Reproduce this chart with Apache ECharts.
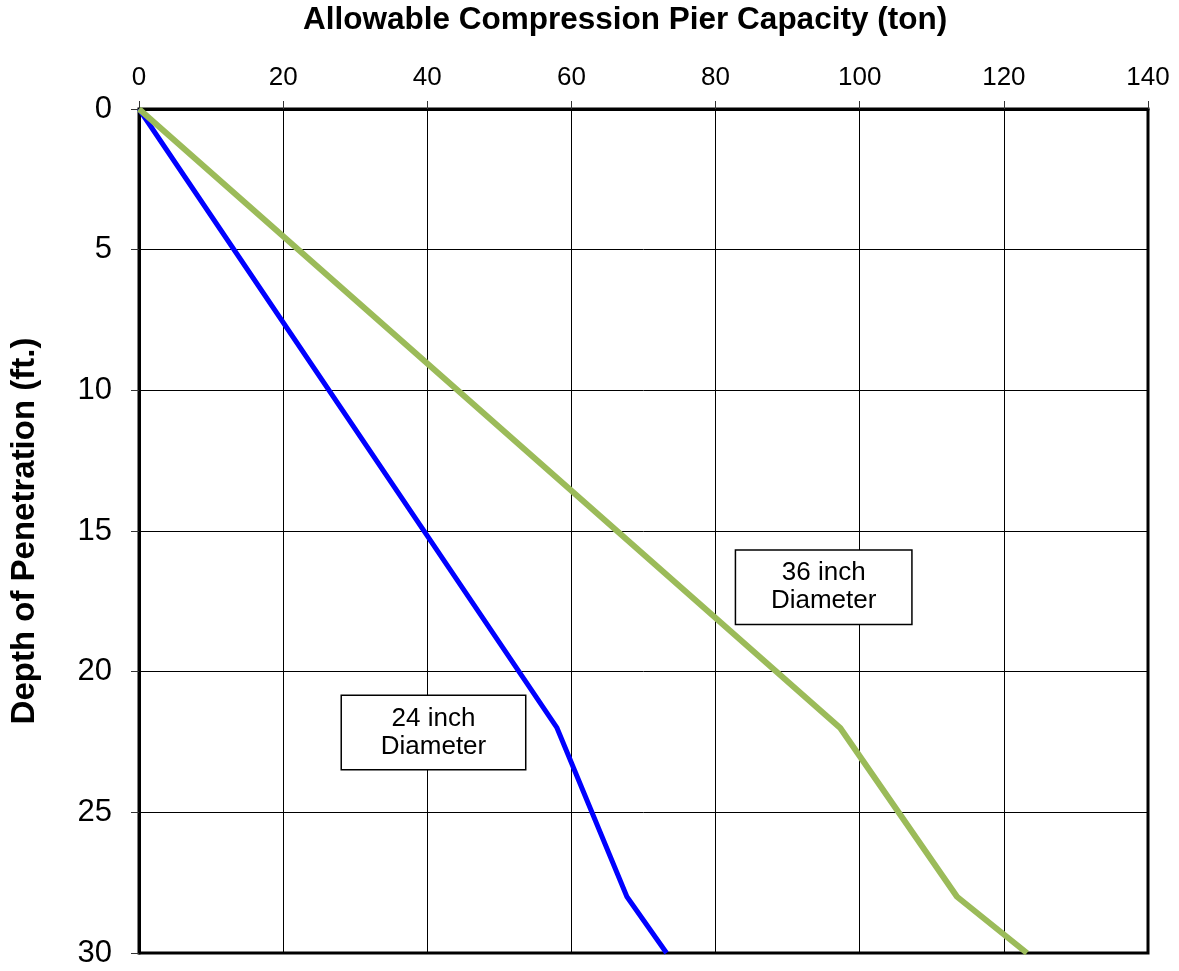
<!DOCTYPE html>
<html>
<head>
<meta charset="utf-8">
<title>Allowable Compression Pier Capacity</title>
<script src="https://cdn.jsdelivr.net/npm/echarts@6/dist/echarts.min.js"></script>
<style>
  html, body { margin: 0; padding: 0; background: #fff; }
  #chart { width: 1179px; height: 971px; }
</style>
</head>
<body>
<div id="chart"></div>
<script>
// Depth of penetration (ft) and allowable capacity (ton) per pier diameter
const depthFt = [0, 22, 28, 30];
const capacity24in = [0, 58.0, 67.7, 73.2];
const capacity36in = [0, 97.3, 113.5, 123.2];

const xTicks = [0, 20, 40, 60, 80, 100, 120, 140];
const yTicks = [0, 5, 10, 15, 20, 25, 30];

const seriesNames = ['24 inch Diameter', '36 inch Diameter'];
const calloutTexts = ['24 inch\nDiameter', '36 inch\nDiameter'];

const FONT = '"Liberation Sans", Arial, sans-serif';

function pairs(xs, ys) {
  return ys.map((d, i) => [xs[i], d]);
}

// Boxed text label anchored at a data position
function callout(text, x, y, boxWidth) {
  return {
    type: 'scatter',
    symbolSize: 0,
    silent: true,
    z: 5,
    itemStyle: { opacity: 1 },
    data: [[x, y]],
    label: {
      show: true,
      position: 'inside',
      formatter: text,
      fontFamily: FONT,
      fontSize: 26,
      lineHeight: 28,
      color: '#000',
      opacity: 1,
      align: 'center',
      verticalAlign: 'middle',
      width: boxWidth,
      padding: [8, 0, 9, 0],
      backgroundColor: '#fff',
      borderColor: '#000',
      borderWidth: 1.5
    }
  };
}

const chart = echarts.init(document.getElementById('chart'), null, { renderer: 'canvas' });

chart.setOption({
  animation: false,
  backgroundColor: '#fff',
  graphic: [{
    type: 'text',
    left: 303,
    top: 4,
    style: {
      text: 'Allowable Compression Pier Capacity (ton)',
      font: 'bold 31.5px ' + FONT,
      fill: '#000'
    }
  }],
  grid: {
    left: 133, right: 31, top: 109, bottom: 18,
    show: true,
    borderColor: '#000',
    borderWidth: 3,
    containLabel: false
  },
  xAxis: {
    type: 'value',
    position: 'top',
    min: xTicks[0],
    max: xTicks[xTicks.length - 1],
    interval: xTicks[1] - xTicks[0],
    axisLine: { show: true, lineStyle: { color: '#000', width: 3 } },
    axisTick: { show: true, inside: false, length: 8, lineStyle: { color: '#333', width: 1 } },
    axisLabel: { fontFamily: FONT, fontSize: 26, color: '#000', margin: 18 },
    splitLine: { show: true, lineStyle: { color: '#000', width: 1 } }
  },
  yAxis: {
    type: 'value',
    inverse: true,
    min: yTicks[0],
    max: yTicks[yTicks.length - 1],
    interval: yTicks[1] - yTicks[0],
    name: 'Depth of Penetration (ft.)',
    nameLocation: 'middle',
    nameRotate: 90,
    nameGap: 98,
    nameTextStyle: { fontFamily: FONT, fontSize: 33, fontWeight: 'bold', color: '#000' },
    axisLine: { show: true, lineStyle: { color: '#000', width: 3 } },
    axisTick: { show: true, inside: false, length: 8, lineStyle: { color: '#333', width: 1 } },
    axisLabel: { fontFamily: FONT, fontSize: 31, color: '#000', margin: 27 },
    splitLine: { show: true, lineStyle: { color: '#000', width: 1 } }
  },
  series: [
    {
      name: seriesNames[0],
      type: 'line',
      symbol: 'none',
      z: 3,
      lineStyle: { color: '#0000FF', width: 5, join: 'round' },
      data: pairs(capacity24in, depthFt)
    },
    {
      name: seriesNames[1],
      type: 'line',
      symbol: 'none',
      z: 4,
      lineStyle: { color: '#9BBB59', width: 6, join: 'round' },
      data: pairs(capacity36in, depthFt)
    },
    callout(calloutTexts[0], 40.86, 22.16, 183),
    callout(calloutTexts[1], 95.0, 17.0, 175)
  ]
});
</script>
</body>
</html>
